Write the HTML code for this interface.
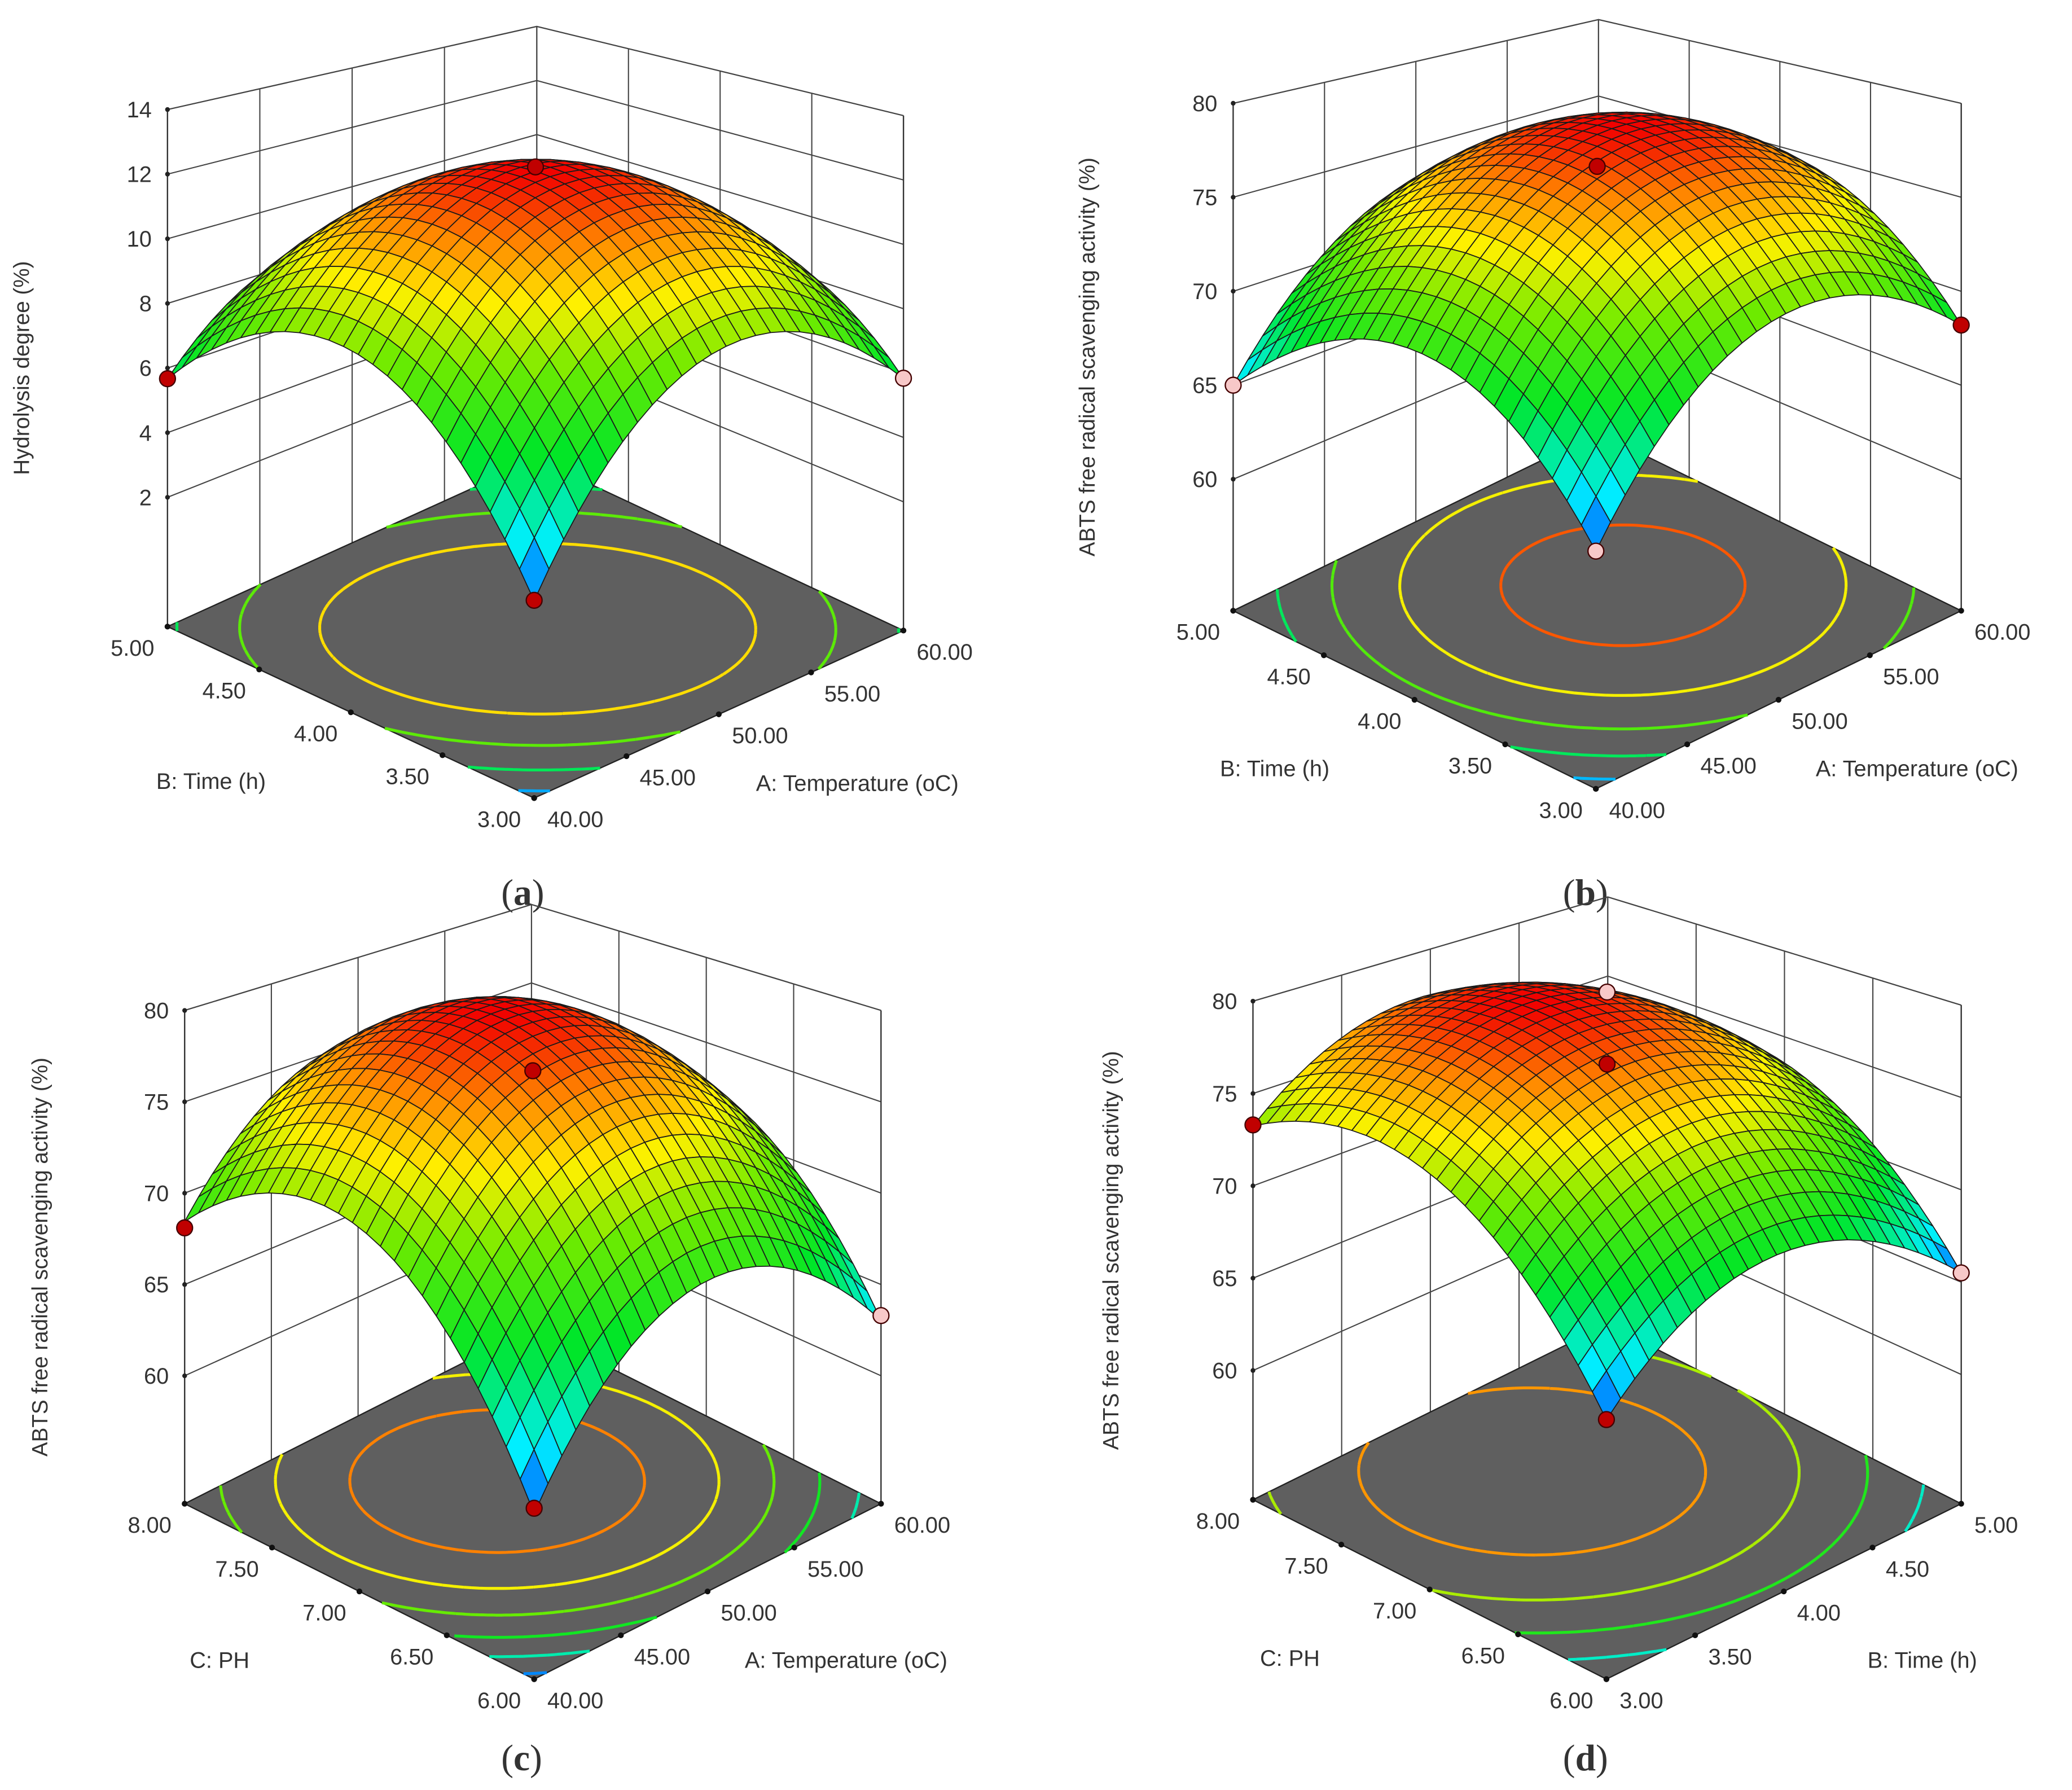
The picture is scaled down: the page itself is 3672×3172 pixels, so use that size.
<!DOCTYPE html>
<html><head><meta charset="utf-8"><style>
html,body{margin:0;padding:0;background:#fff}
svg{display:block}
text{font-family:"Liberation Sans",sans-serif;fill:#333}
</style></head><body>
<svg id="chart" xmlns="http://www.w3.org/2000/svg" width="3672" height="3172" viewBox="0 0 1571 1357"></svg>
<script>
// model coefficients [b0, b1(u), b2(v), b12, b11, b22] in coded units
const coefA = [12.3, 0.04, -0.04, -1.25, -3.9, -3.9];
const coefB = [78.0, 2.4, 0.8, 0.1, -5.65, -5.65];
const coefC = [79.0, 0.5, 3.2, -0.55, -6.9, -6.9];
const coefD = [78.5, -0.27, 3.6, -0.375, -4.75, -4.75];
// axis tick labels
const uTicksA = ["40.00","45.00","50.00","55.00","60.00"];
const vTicksA = ["3.00","3.50","4.00","4.50","5.00"];
const vTicksTime = ["3.00","3.50","4.00","4.50","5.00"];
const vTicksPH = ["6.00","6.50","7.00","7.50","8.00"];
const uTicksTime = ["3.00","3.50","4.00","4.50","5.00"];
const zTicksA = [2,4,6,8,10,12,14];
const zTicksABTS = [60,65,70,75,80];
const contourA = [1,2,4,6,8,10];
const contourABTS = [59,62,65,68,71,74,77];
// design points [u, v, z, type] (type 1 = red, 0 = pink)
const ptsA = [[0,1,5.67,1],[1,0,5.84,0],[0,0,3.26,1],[0.5,0.5,12.3,1]];
const ptsB = [[0,1,65.0,0],[1,0,68.2,1],[0,0,63.6,0],[0.5,0.5,76.6,1]];
const ptsC = [[0,1,68.1,1],[1,0,63.3,0],[0,0,61.2,1],[0.5,0.5,76.7,1]];
const ptsD = [[0,1,73.3,1],[1,0,65.5,0],[0,0,65.3,1],[0.5,0.5,76.7,1],[0.5,0.5,80.6,0]];

const panels = [
 {id:'a', coef:coefA, uT:uTicksA, vT:vTicksA, zT:zTicksA, lev:contourA, pts:ptsA,
  F:[405,605], L:[127,475], R:[685,478], zf:-2, zt:14, sF:28.5, sL:24.5, sR:24.4, sB:20.5,
  ztitle:"Hydrolysis degree (%)", ztx:22, utitle:"A: Temperature (oC)", vtitle:"B: Time (h)", cap:[380,677]},
 {id:'b', coef:coefB, uT:uTicksA, vT:vTicksTime, zT:zTicksABTS, lev:contourABTS, pts:ptsB,
  F:[1210,598], L:[935,463], R:[1487,463], zf:53, zt:80, sF:17, sL:14.25, sR:14.25, sB:11.6,
  ztitle:"ABTS free radical scavenging activity (%)", ztx:830, utitle:"A: Temperature (oC)", vtitle:"B: Time (h)", cap:[1185,677]},
 {id:'c', coef:coefC, uT:uTicksA, vT:vTicksPH, zT:zTicksABTS, lev:contourABTS, pts:ptsC,
  F:[405,1273], L:[140,1140], R:[668,1140], zf:53, zt:80, sF:15.8, sL:13.85, sR:13.85, sB:11.9,
  ztitle:"ABTS free radical scavenging activity (%)", ztx:36, utitle:"A: Temperature (oC)", vtitle:"C: PH", cap:[380,1333]},
 {id:'d', coef:coefD, uT:uTicksTime, vT:vTicksPH, zT:zTicksABTS, lev:contourABTS, pts:ptsD,
  F:[1218,1273], L:[950,1137], R:[1487,1140], zf:53, zt:80, sF:16, sL:14, sR:14, sB:12,
  ztitle:"ABTS free radical scavenging activity (%)", ztx:848, utitle:"B: Time (h)", vtitle:"C: PH", cap:[1185,1333]}
];

const NS = "http://www.w3.org/2000/svg";
const svg = document.getElementById('chart');
function mk(tag, attrs, parent){const e=document.createElementNS(NS,tag);for(const k in attrs)e.setAttribute(k,attrs[k]);(parent||svg).appendChild(e);return e;}

const stops=[[0,[0,64,255]],[0.14,[0,240,255]],[0.35,[0,230,40]],[0.56,[110,235,0]],[0.72,[255,240,0]],[0.87,[255,130,0]],[1,[240,0,0]]];
function cmap(t){t=Math.max(0,Math.min(1,t));for(let i=1;i<stops.length;i++){if(t<=stops[i][0]){const a=stops[i-1],b=stops[i];const f=(t-a[0])/(b[0]-a[0]);const c=a[1].map((x,j)=>Math.round(x+(b[1][j]-x)*f));return `rgb(${c[0]},${c[1]},${c[2]})`;}}return 'rgb(240,0,0)';}

panels.forEach(p=>{
  const g = mk('g',{});
  
  
  const zf=(u,v)=>{const x1=2*u-1,x2=2*v-1,c=p.coef;return c[0]+c[1]*x1+c[2]*x2+c[3]*x1*x2+c[4]*x1*x1+c[5]*x2*x2;};
  const sc=(u,v)=>p.sF+(p.sL-p.sF)*v+(p.sR-p.sF)*u+(p.sB-p.sL-p.sR+p.sF)*u*v;
  const P=(u,v,z)=>{const x=p.F[0]+u*(p.R[0]-p.F[0])+v*(p.L[0]-p.F[0]);const y=p.F[1]+u*(p.R[1]-p.F[1])+v*(p.L[1]-p.F[1]);return [x,y-(z-p.zf)*sc(u,v)];};
  const pt=a=>a[0].toFixed(1)+','+a[1].toFixed(1);
  const walls=mk('g',{stroke:'#444','stroke-width':0.9,fill:'none'},g);
  
  
  const zl=p.zT.concat([p.zt]);
  zl.forEach(z=>{mk('polyline',{points:[P(0,1,z),P(1,1,z),P(1,0,z)].map(pt).join(' ')},walls);});
  for(let i=0;i<=4;i++){const t=i/4;
    mk('line',{x1:P(t,1,p.zf)[0],y1:P(t,1,p.zf)[1],x2:P(t,1,p.zt)[0],y2:P(t,1,p.zt)[1]},walls);
    mk('line',{x1:P(1,t,p.zf)[0],y1:P(1,t,p.zf)[1],x2:P(1,t,p.zt)[0],y2:P(1,t,p.zt)[1]},walls);}
  const floor=mk('polygon',{points:[P(0,0,p.zf),P(1,0,p.zf),P(1,1,p.zf),P(0,1,p.zf)].map(pt).join(' '),fill:'#5f5f5f',stroke:'#222','stroke-width':1},g);
  
  
  const N=25;let zmin=1e9,zmax=-1e9;
  for(let i=0;i<=N;i++)for(let j=0;j<=N;j++){const z=zf(i/N,j/N);zmin=Math.min(zmin,z);zmax=Math.max(zmax,z);}
  const M=80;const cg=mk('g',{fill:'none','stroke-width':2.2},g);
  
  
  p.lev.forEach(L=>{
    if(L<=zmin||L>=zmax)return;let d='';
    for(let i=0;i<M;i++)for(let j=0;j<M;j++){
      const u0=i/M,u1=(i+1)/M,v0=j/M,v1=(j+1)/M;
      const c=[[u0,v0,zf(u0,v0)],[u1,v0,zf(u1,v0)],[u1,v1,zf(u1,v1)],[u0,v1,zf(u0,v1)]];
      const ptsx=[];
      for(let k=0;k<4;k++){const a=c[k],b=c[(k+1)%4];if((a[2]-L)*(b[2]-L)<0){const f=(L-a[2])/(b[2]-a[2]);ptsx.push([a[0]+f*(b[0]-a[0]),a[1]+f*(b[1]-a[1])]);}}
      if(ptsx.length>=2){const A=P(ptsx[0][0],ptsx[0][1],p.zf),B=P(ptsx[1][0],ptsx[1][1],p.zf);d+='M'+pt(A)+'L'+pt(B);}
    }
    const path=mk('path',{d:d,stroke:cmap((L-zmin)/(zmax-zmin))},cg);
    
    
  });
  const sg=mk('g',{stroke:'#1a1a1a','stroke-width':0.75,'stroke-linejoin':'round'},g);
  
  
  const quads=[];
  for(let i=0;i<N;i++)for(let j=0;j<N;j++)quads.push([i,j]);
  quads.sort((a,b)=>(b[0]+b[1])-(a[0]+a[1]));
  quads.forEach(([i,j])=>{
    const c=[[i,j],[i+1,j],[i+1,j+1],[i,j+1]].map(([a,b])=>[a/N,b/N,zf(a/N,b/N)]);
    const za=c.reduce((s,q)=>s+q[2],0)/4;
    const q=mk('polygon',{points:c.map(q=>pt(P(q[0],q[1],q[2]))).join(' '),fill:cmap((za-zmin)/(zmax-zmin))},sg);
    
    
  });
  const ed=mk('g',{stroke:'#333','stroke-width':1},g);
  
  
  [[0,1],[1,0]].forEach(([u,v])=>{const a=P(u,v,p.zf),b=P(u,v,p.zt);mk('line',{x1:a[0],y1:a[1],x2:b[0],y2:b[1]},ed);});
  p.zT.forEach(z=>{const a=P(0,1,z);
    mk('circle',{cx:a[0],cy:a[1],r:1.8,fill:'#222'},g);
    const t=mk('text',{x:a[0]-12,y:a[1]+6,'text-anchor':'end','font-size':17},g);t.textContent=z;
    
    });
  p.uT.forEach((lab,i)=>{const a=P(i/4,0,p.zf);mk('circle',{cx:a[0],cy:a[1],r:2.2,fill:'#111'},g);
    const t=mk('text',{x:a[0]+10,y:a[1]+22,'text-anchor':'start','font-size':17},g);t.textContent=lab;
    
    });
  p.vT.forEach((lab,i)=>{const a=P(0,i/4,p.zf);mk('circle',{cx:a[0],cy:a[1],r:2.2,fill:'#111'},g);
    const t=mk('text',{x:a[0]-10,y:a[1]+22,'text-anchor':'end','font-size':17},g);t.textContent=lab;
    
    });
  const um=P(0.5,0,p.zf),vm=P(0,0.5,p.zf);
  let t=mk('text',{x:um[0]+105,y:um[1]+58,'text-anchor':'middle','font-size':17},g);t.textContent=p.utitle;
  
  
  t=mk('text',{x:vm[0]-106,y:vm[1]+58,'text-anchor':'middle','font-size':17},g);t.textContent=p.vtitle;
  
  
  const zm=P(0,1,(p.zf+p.zt)/2);
  t=mk('text',{x:p.ztx,y:zm[1],'text-anchor':'middle','font-size':16.5,transform:`rotate(-90 ${p.ztx} ${zm[1]})`},g);t.textContent=p.ztitle;
  
  
  p.pts.forEach(d=>{const a=P(d[0],d[1],d[2]);
    const c=mk('circle',{cx:a[0],cy:a[1],r:6,fill:d[3]?'#c00000':'#f7c8c8',stroke:'#400','stroke-width':1},g);
    
    });
  t=mk('text',{x:p.cap[0],y:p.cap[1]+9,'font-size':28,style:'font-family:"Liberation Serif",serif'},g);
  t.innerHTML='(<tspan font-weight="bold">'+p.id+'</tspan>)';
  
  
});
</script>
</body></html>
